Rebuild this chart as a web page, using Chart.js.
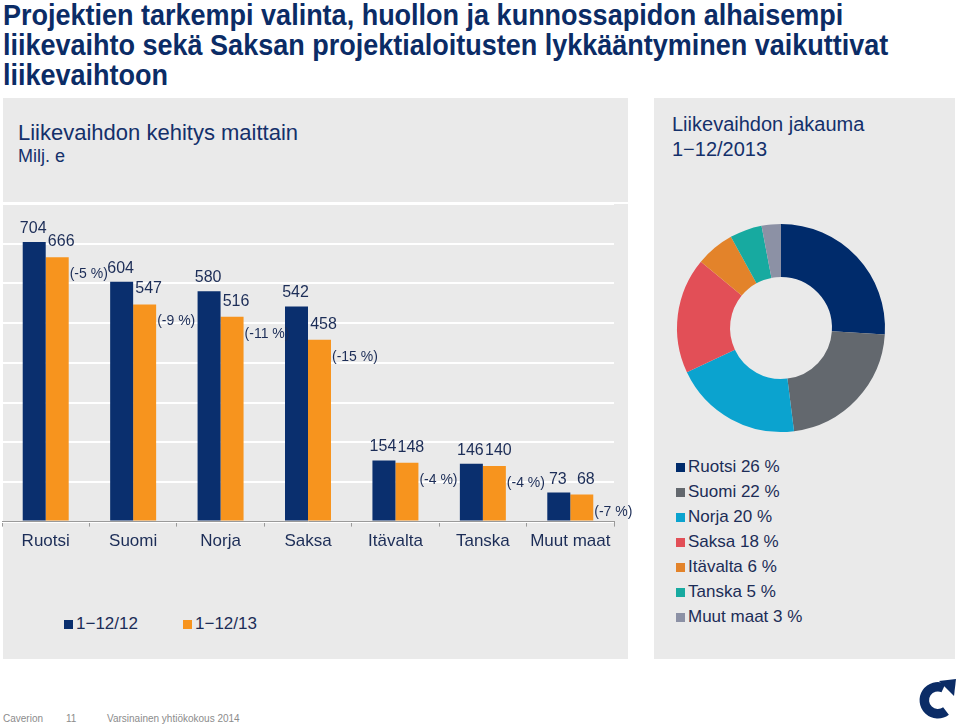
<!DOCTYPE html>
<html>
<head>
<meta charset="utf-8">
<script src="https://cdn.jsdelivr.net/npm/chart.js@4.4.0/dist/chart.umd.min.js"></script>
<style>
  body { margin: 0; width: 960px; height: 728px; position: relative; overflow: hidden; background: #fff;
         font-family: "Liberation Sans", Arial, sans-serif; color: #1c2d57; }
  .otsikko { position: absolute; left: 3px; top: 0px; width: 1100px; font-family: "Liberation Sans", Arial, sans-serif;
             font-weight: bold; font-size: 30px; line-height: 30px; color: #0b2c66;
             transform: scaleX(0.9); transform-origin: 0 0; }
  .paneeli { position: absolute; background: #eaeaea; }
  .teksti { position: absolute; white-space: nowrap; color: #14306a; }
  .selite { position: absolute; white-space: nowrap; font-size: 17px; }
  .selite span.ruutu { display: inline-block; width: 9px; height: 9px; margin-right: 3px; }
  .alatunniste { position: absolute; top: 713px; font-size: 10px; color: #8c8c8c; }
</style>
</head>
<body>
<div class="otsikko">Projektien tarkempi valinta, huollon ja kunnossapidon alhaisempi<br>liikevaihto sekä Saksan projektialoitusten lykkääntyminen vaikuttivat<br>liikevaihtoon</div>

<div class="paneeli" style="left:3px;top:98px;width:625px;height:104px;"></div>
<div class="paneeli" style="left:3px;top:204px;width:625px;height:455px;"></div>
<div class="paneeli" style="left:654px;top:98px;width:301px;height:561px;"></div>

<div class="teksti" style="left:18px;top:120px;font-size:22px;line-height:25px;">Liikevaihdon kehitys maittain</div>
<div class="teksti" style="left:18px;top:146px;font-size:18px;line-height:20px;">Milj. e</div>
<div class="teksti" style="left:672px;top:113px;font-size:20px;line-height:22px;">Liikevaihdon jakauma</div>
<div class="teksti" style="left:672px;top:138px;font-size:20px;line-height:22px;">1−12/2013</div>

<div style="position:absolute;left:2px;top:200px;width:640px;height:400px;"><canvas id="pylvaat"></canvas></div>
<div style="position:absolute;left:667px;top:214px;width:228px;height:228px;"><canvas id="donitsi"></canvas></div>

<div id="pylvasSelite"></div>
<div id="donitsiSelite"></div>

<div class="alatunniste" style="left:3px;">Caverion</div>
<div class="alatunniste" style="left:66px;">11</div>
<div class="alatunniste" style="left:107px;">Varsinainen yhtiökokous 2014</div>
<svg style="position:absolute;left:915px;top:678px;" width="44" height="46" viewBox="0 0 44 46">
  <path d="M 28.5 10 A 13.5 13.5 0 1 0 31 33" fill="none" stroke="#0b2c66" stroke-width="9.5"/>
  <polygon points="24,3 41,1 39,18" fill="#0b2c66"/>
</svg>

<script>
const maat = ["Ruotsi", "Suomi", "Norja", "Saksa", "Itävalta", "Tanska", "Muut maat"];
const lv2012 = [704, 604, 580, 542, 154, 146, 73];
const lv2013 = [666, 547, 516, 458, 148, 140, 68];
const muutos = ["(-5 %)", "(-9 %)", "(-11 %)", "(-15 %)", "(-4 %)", "(-4 %)", "(-7 %)"];
const kaudet = ["1−12/12", "1−12/13"];

const jakaumaMaat = ["Ruotsi", "Suomi", "Norja", "Saksa", "Itävalta", "Tanska", "Muut maat"];
const jakauma = [26, 22, 20, 18, 6, 5, 3];

const sininen = "#0a2f6e";
const oranssi = "#f7941e";
const jakaumaVarit = ["#002b6b", "#63686e", "#0ba3cf", "#e24f57", "#e3832a", "#17aaa0", "#8c91a5"];
const fontti = "'Liberation Sans', Arial, sans-serif";

// arvot pylvaiden paalle ja muutosprosentit oikealle
const arvoLabelit = {
  id: "arvoLabelit",
  afterDatasetsDraw(chart) {
    const ctx = chart.ctx;
    ctx.save();
    ctx.fillStyle = "#1c2d57";
    ctx.textBaseline = "alphabetic";
    const m0 = chart.getDatasetMeta(0);
    const m1 = chart.getDatasetMeta(1);
    m0.data.forEach((bar, i) => {
      ctx.font = "16px " + fontti;
      ctx.textAlign = "center";
      ctx.fillText(lv2012[i], bar.x - 1, bar.y - 9);
    });
    m1.data.forEach((bar, i) => {
      ctx.font = "16px " + fontti;
      ctx.textAlign = "center";
      ctx.fillText(lv2013[i], bar.x + 4, bar.y - 11);
      ctx.font = "14px " + fontti;
      ctx.textAlign = "left";
      ctx.fillText(muutos[i], bar.x + bar.width / 2 + 1, bar.y + 21);
    });
    ctx.restore();
  },
};

new Chart(document.getElementById("pylvaat"), {
  type: "bar",
  data: {
    labels: maat,
    datasets: [
      { label: kaudet[0], data: lv2012, backgroundColor: sininen, categoryPercentage: 0.526, barPercentage: 1 },
      { label: kaudet[1], data: lv2013, backgroundColor: oranssi, categoryPercentage: 0.526, barPercentage: 1 },
    ],
  },
  options: {
    responsive: true,
    maintainAspectRatio: false,
    animation: false,
    layout: { padding: { top: 4, right: 28, bottom: 43, left: 0 } },
    plugins: { legend: { display: false }, tooltip: { enabled: false } },
    scales: {
      x: {
        grid: { offset: true, drawOnChartArea: false, drawTicks: true, tickLength: 5, color: "#9a9a9a" },
        border: { color: "#9a9a9a", width: 1 },
        ticks: { color: "#1c2d57", font: { family: fontti, size: 17 }, padding: 5 },
      },
      y: {
        min: 0,
        max: 800,
        ticks: { display: false, stepSize: 100 },
        grid: { color: "#ffffff", lineWidth: 2, drawTicks: false },
        border: { display: false },
      },
    },
  },
  plugins: [arvoLabelit],
});

new Chart(document.getElementById("donitsi"), {
  type: "doughnut",
  data: {
    labels: jakaumaMaat,
    datasets: [{ data: jakauma, backgroundColor: jakaumaVarit, borderWidth: 0 }],
  },
  options: {
    responsive: true,
    maintainAspectRatio: false,
    animation: false,
    cutout: "49%",
    layout: { padding: 10 },
    plugins: { legend: { display: false }, tooltip: { enabled: false } },
  },
});

// selitteet
const pylvasSelite = document.getElementById("pylvasSelite");
[[64, sininen], [183, oranssi]].forEach((s, i) => {
  const d = document.createElement("div");
  d.className = "selite";
  d.style.left = s[0] + "px";
  d.style.top = "614px";
  d.innerHTML = '<span class="ruutu" style="background:' + s[1] + '"></span>' + kaudet[i];
  pylvasSelite.appendChild(d);
});

const donitsiSelite = document.getElementById("donitsiSelite");
jakaumaMaat.forEach((maa, i) => {
  const d = document.createElement("div");
  d.className = "selite";
  d.style.left = "676px";
  d.style.top = 457 + i * 25 + "px";
  d.innerHTML = '<span class="ruutu" style="background:' + jakaumaVarit[i] + '"></span>' + maa + " " + jakauma[i] + " %";
  donitsiSelite.appendChild(d);
});
</script>
</body>
</html>
